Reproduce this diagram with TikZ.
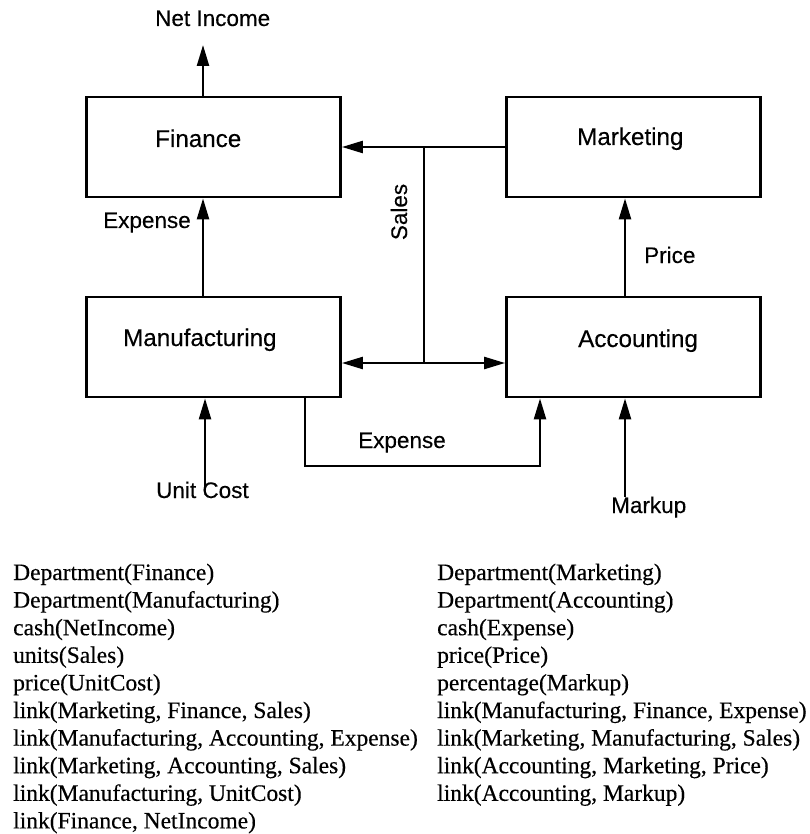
\documentclass[tikz,border=0pt]{standalone}
\usepackage{fontspec}
\setmainfont{Liberation Serif}
\newfontfamily\factfont{Liberation Serif}[FakeBold=0.4]
\newfontfamily\labfont{Liberation Sans}[FakeBold=0.3]
\usetikzlibrary{arrows.meta}
\begin{document}
\begin{tikzpicture}[x=1pt,y=-1pt,
  dept/.style={draw, line width=2.8pt, minimum width=254pt, minimum height=100pt, inner sep=0pt},
  lab/.style={inner sep=0pt, anchor=base west, font=\labfont\fontsize{22.5}{27}\selectfont},
  boxlab/.style={lab, font=\labfont\fontsize{24.2}{29}\selectfont},
  fact/.style={inner sep=0pt, anchor=base west, font=\factfont\fontsize{23.5}{28}\selectfont},
  conn/.style={line width=2.4pt},
  arr/.style={conn, -{Triangle[length=21pt,width=12pt]}},
  arrtwo/.style={conn, {Triangle[length=21pt,width=12pt]}-{Triangle[length=21pt,width=12pt]}}]
\useasboundingbox (0,0) rectangle (809,834);
% boxes
\node[dept] (fin) at (213.5,147) {};
\node[dept] (mkt) at (633.5,147) {};
\node[dept] (man) at (213.5,347) {};
\node[dept] (acc) at (633.5,347) {};
% box labels
\node[boxlab] (tfin) at (155,147) {Finance};
\node[boxlab] (tmkt) at (577,145) {Marketing};
\node[boxlab] (tman) at (123,346) {Manufacturing};
\node[boxlab] (tacc) at (578,347) {Accounting};
% connector labels
\node[lab] (tni) at (155,26) {Net Income};
\node[lab] (texp1) at (103,228) {Expense};
\node[lab] (tprice) at (644,263) {Price};
\node[lab] (texp2) at (358,448) {Expense};
\node[lab] (tuc) at (156,498) {Unit Cost};
\node[lab] (tmu) at (611,513) {Markup};
\node[lab, anchor=base, rotate=90] (tsales) at (407,212) {Sales};
% coordinates
\coordinate (ni) at (203,45);
\coordinate (px) at (625,0);
\coordinate (jt) at (424,147);
\coordinate (jb) at (424,363);
\coordinate (uc) at (205,487);
\coordinate (mu) at (625,497);
\coordinate (e1) at (305,466);
\coordinate (e2) at (540,466);
% connectors
\draw[arr] (ni |- fin.north) -- (ni);
\draw[arr] (ni |- man.north) -- (ni |- fin.south);
\draw[arr] (px |- acc.north) -- (px |- mkt.south);
\draw[arr] (mkt.west) -- (fin.east);
\draw[conn] (jt) -- (jb);
\draw[arrtwo] (man.east |- jb) -- (acc.west |- jb);
\draw[arr] (e1 |- man.south) -- (e1) -- (e2) -- (e2 |- acc.south);
\draw[arr] (uc) -- (uc |- man.south);
\draw[arr] (mu) -- (mu |- acc.south);
% facts
\foreach \t [count=\i from 0] in {Department(Finance), Department(Manufacturing), cash(NetIncome), units(Sales), price(UnitCost), {link(Marketing, Finance, Sales)}, {link(Manufacturing, Accounting, Expense)}, {link(Marketing, Accounting, Sales)}, {link(Manufacturing, UnitCost)}, {link(Finance, NetIncome)}}
  \node[fact] (fl\i) at (13,580+27.6*\i) {\t};
\foreach \t [count=\i from 0] in {Department(Marketing), Department(Accounting), cash(Expense), price(Price), percentage(Markup), {link(Manufacturing, Finance, Expense)}, {link(Marketing, Manufacturing, Sales)}, {link(Accounting, Marketing, Price)}, {link(Accounting, Markup)}}
  \node[fact] (fr\i) at (437,580+27.6*\i) {\t};
\end{tikzpicture}
\end{document}
